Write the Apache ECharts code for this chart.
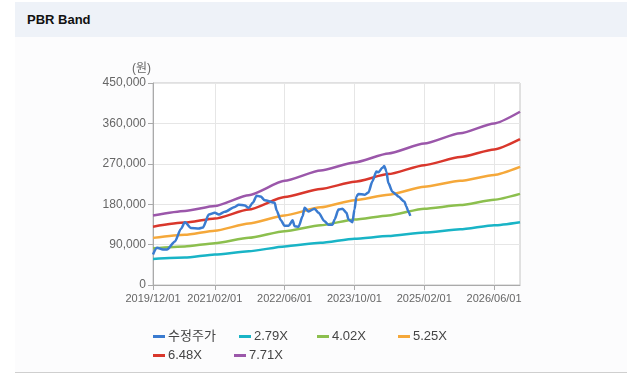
<!DOCTYPE html>
<html>
<head>
<meta charset="utf-8">
<script src="https://cdn.jsdelivr.net/npm/echarts@6/dist/echarts.min.js"></script>
<style>
  html, body { margin: 0; padding: 0; background: #fff; }
  #wrap { position: relative; width: 627px; height: 377px; overflow: hidden; }
  #head { position: absolute; left: 15px; top: 2px; width: 612px; height: 35px; background: #eef2f8; }
  #head span { position: absolute; left: 12px; top: 10px; font: bold 13px 'Liberation Sans', 'Noto Sans CJK KR', sans-serif; color: #111; }
  #body { position: absolute; left: 15px; top: 37px; width: 612px; height: 335px; background: #fcfcfd; border-bottom: 1px solid #cfcfcf; }
  #chart { position: absolute; left: 0; top: 0; width: 627px; height: 377px; }
</style>
</head>
<body>
<div id="wrap">
  <div id="head"><span>PBR Band</span></div>
  <div id="body"></div>
  <div id="chart"></div>
</div>
<script>
// x 축 눈금 (표본 순번) 과 날짜 라벨
const tickIdx = [0, 31, 66, 101, 136, 171]
const tickLabels = ['2019/12/01', '2021/02/01', '2022/06/01', '2023/10/01', '2025/02/01', '2026/06/01']
const xMax = 184

// 밴드 (천원 단위)
const bandX = [0, 16, 31, 48, 66, 84, 101, 118, 136, 154, 171, 184]
const band279 = [58, 61, 68, 75, 86, 94, 103, 109, 117, 124, 133, 140]
const band402 = [82, 86, 93, 105, 120, 133, 146, 155, 170, 178, 190, 203]
const band525 = [105, 112, 121, 137, 155, 173, 189, 201, 219, 232, 245, 263]
const band648 = [130, 139, 148, 168, 196, 214, 230, 247, 267, 285, 302, 325]
const band771 = [155, 165, 176, 200, 232, 255, 273, 293, 315, 338, 360, 386]

// 수정주가 (천원 단위)
const priceX = [0, 2, 5, 7, 11, 14, 16, 19, 23, 25, 28, 31, 33, 36, 41, 43, 46, 48, 50, 52, 54, 56, 61, 62, 64, 66,
  68, 70, 71, 73, 75, 76, 78, 81, 83, 86, 88, 90, 91, 93, 95, 97, 98, 100, 101, 102, 103, 106, 108, 110, 112, 113,
  115, 116, 117, 118, 120, 122, 123, 126, 127, 128, 129]
const priceY = [68, 83, 79, 79, 97, 125, 140, 127, 126, 128, 157, 161, 157, 163, 174, 179, 177, 172, 183, 199, 197, 189, 183, 166, 145, 132,
  132, 144, 131, 130, 153, 172, 164, 170, 161, 142, 134, 134, 146, 168, 170, 161, 146, 140, 168, 197, 203, 201, 206, 231, 253, 251,
  261, 265, 253, 227, 208, 201, 197, 186, 175, 164, 154]

const names = ['수정주가', '2.79X', '4.02X', '5.25X', '6.48X', '7.71X']
const colors = ['#3a7bd0', '#19b4c6', '#8cbf4e', '#f5a83a', '#d9372c', '#9b57aa']
const bands = [band279, band402, band525, band648, band771]
// 범례 위치
const legendLeft = [148, 234, 312, 393, 148, 229]
const legendTop = [325, 325, 325, 325, 344, 344]

const pairs = (xs, ys) => xs.map((x, i) => [x, ys[i] * 1000])

const chart = echarts.init(document.getElementById('chart'))

const series = bands.map((b, i) => ({
  name: names[i + 1],
  type: 'line',
  data: pairs(bandX, b),
  showSymbol: false,
  smooth: 0.2,
  smoothMonotone: 'x',
  lineStyle: { width: 2.5, color: colors[i + 1] },
  itemStyle: { color: colors[i + 1] },
  z: 2
}))
series.push({
  name: names[0],
  type: 'line',
  data: pairs(priceX, priceY),
  showSymbol: false,
  smooth: 0.25,
  smoothMonotone: 'x',
  lineStyle: { width: 2.5, color: colors[0] },
  itemStyle: { color: colors[0] },
  z: 5
})

const font = "'Liberation Sans', 'Noto Sans CJK KR', sans-serif"

chart.setOption({
  animation: false,
  textStyle: { fontFamily: font },
  grid: {
    left: 153, right: 107, top: 83, bottom: 92,
    show: true, borderColor: '#c4c4c4', borderWidth: 1, backgroundColor: '#fff'
  },
  legend: names.map((n, i) => ({
    data: [n],
    left: legendLeft[i],
    top: legendTop[i],
    icon: 'rect',
    itemWidth: 12,
    itemHeight: 3,
    itemGap: 0,
    textStyle: { fontSize: 13, color: '#444', fontFamily: font, padding: [0, 0, 0, -2] },
    selectedMode: false
  })),
  xAxis: {
    type: 'value',
    min: 0,
    max: xMax,
    axisLine: { show: true, lineStyle: { color: '#aaa' } },
    axisTick: { show: true, customValues: tickIdx, length: 5, lineStyle: { color: '#aaa' } },
    splitLine: { show: true, lineStyle: { color: '#e6e6e6' } },
    axisLabel: {
      customValues: tickIdx,
      color: '#666',
      fontSize: 11,
      margin: 8,
      formatter: v => tickLabels[tickIdx.indexOf(v)] || ''
    }
  },
  yAxis: {
    type: 'value',
    min: 0,
    max: 450000,
    interval: 90000,
    name: '(원)',
    nameLocation: 'end',
    nameGap: 8,
    nameTextStyle: { color: '#666', fontSize: 12, align: 'right', padding: [0, 2, 0, 0] },
    axisLine: { show: true, lineStyle: { color: '#aaa' } },
    axisTick: { show: true, length: 5, lineStyle: { color: '#aaa' } },
    splitLine: { show: true, lineStyle: { color: '#e6e6e6' } },
    axisLabel: {
      color: '#666',
      fontSize: 12,
      margin: 7,
      formatter: v => v.toLocaleString('en-US')
    }
  },
  series
})
</script>
</body>
</html>
